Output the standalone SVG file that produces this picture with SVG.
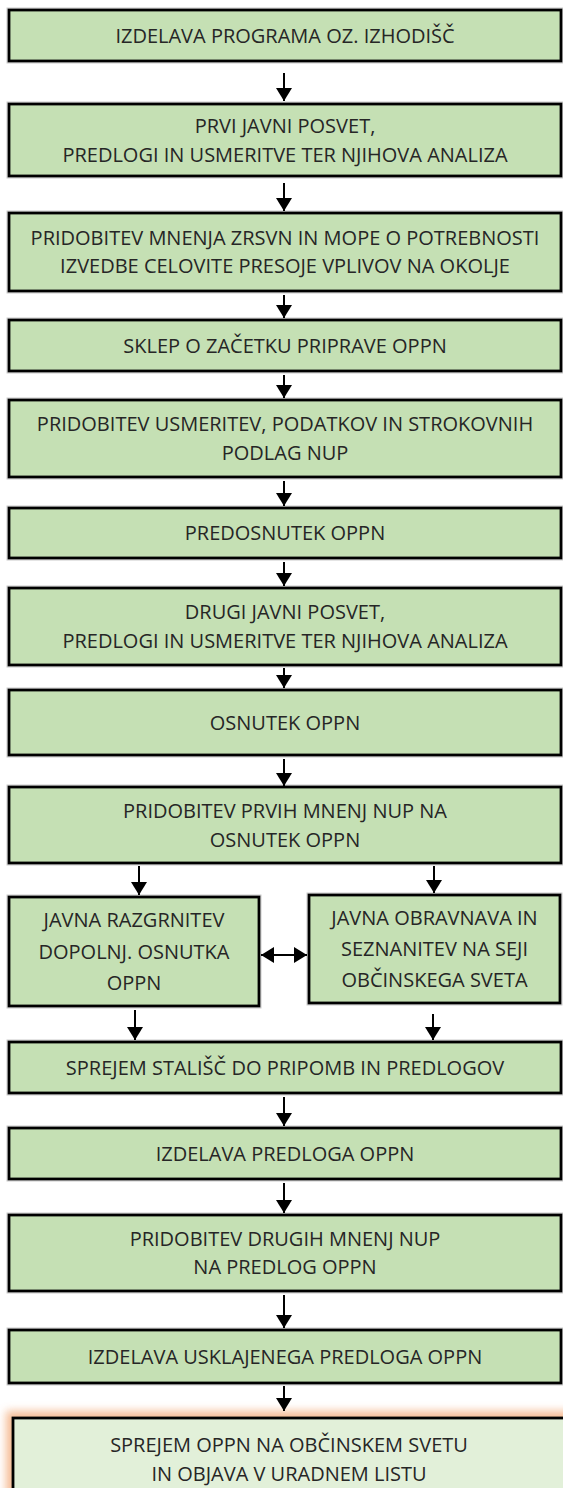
<svg xmlns="http://www.w3.org/2000/svg" width="563" height="1488" viewBox="0 0 563 1488">
<defs>
<style>
.box{fill:#C5E0B4;stroke:#000;stroke-width:2.8}
.halo{fill:none;stroke:#c9c9c9;stroke-width:1}
.final{fill:#E2F0D9;stroke:#000;stroke-width:2.8}
text{font-family:"Open Sans","Liberation Sans",sans-serif;font-size:20px;fill:#262626;text-anchor:middle}
.con{stroke:#000;stroke-width:2;fill:none}
</style>
<marker id="ah" markerUnits="userSpaceOnUse" markerWidth="14" markerHeight="16" refX="13" refY="8" orient="auto-start-reverse">
<path d="M0,0 L13,8 L0,16 Z" fill="#000"/>
</marker>
<filter id="glow" x="-10%" y="-30%" width="120%" height="160%">
<feGaussianBlur stdDeviation="4"/>
</filter>
</defs>
<rect width="563" height="1488" fill="#fff"/>

<g id="n1"><rect class="halo" x="7" y="8" width="556" height="55"/><rect class="box" x="9" y="10" width="552" height="51"/><text x="285" y="42.5">IZDELAVA PROGRAMA OZ. IZHODIŠČ</text></g>
<g id="n2"><rect class="halo" x="7" y="102" width="556" height="76"/><rect class="box" x="9" y="104" width="552" height="72"/><text x="285" y="133">PRVI JAVNI POSVET,</text><text x="285" y="162">PREDLOGI IN USMERITVE TER NJIHOVA ANALIZA</text></g>
<g id="n3"><rect class="halo" x="7" y="211" width="556" height="82"/><rect class="box" x="9" y="213" width="552" height="78"/><text x="285" y="245">PRIDOBITEV MNENJA ZRSVN IN MOPE O POTREBNOSTI</text><text x="285" y="273">IZVEDBE CELOVITE PRESOJE VPLIVOV NA OKOLJE</text></g>
<g id="n4"><rect class="halo" x="7" y="318" width="556" height="55"/><rect class="box" x="9" y="320" width="552" height="51"/><text x="285" y="352.5">SKLEP O ZAČETKU PRIPRAVE OPPN</text></g>
<g id="n5"><rect class="halo" x="7" y="398" width="556" height="81"/><rect class="box" x="9" y="400" width="552" height="77"/><text x="285" y="431">PRIDOBITEV USMERITEV, PODATKOV IN STROKOVNIH</text><text x="285" y="460">PODLAG NUP</text></g>
<g id="n6"><rect class="halo" x="7" y="506" width="556" height="54"/><rect class="box" x="9" y="508" width="552" height="50"/><text x="285" y="540">PREDOSNUTEK OPPN</text></g>
<g id="n7"><rect class="halo" x="7" y="586" width="556" height="81"/><rect class="box" x="9" y="588" width="552" height="77"/><text x="285" y="619">DRUGI JAVNI POSVET,</text><text x="285" y="648">PREDLOGI IN USMERITVE TER NJIHOVA ANALIZA</text></g>
<g id="n8"><rect class="halo" x="7" y="688" width="556" height="69"/><rect class="box" x="9" y="690" width="552" height="65"/><text x="285" y="729.5">OSNUTEK OPPN</text></g>
<g id="n9"><rect class="halo" x="7" y="785" width="556" height="80"/><rect class="box" x="9" y="787" width="552" height="76"/><text x="285" y="818">PRIDOBITEV PRVIH MNENJ NUP NA</text><text x="285" y="847">OSNUTEK OPPN</text></g>
<g id="n10a"><rect class="halo" x="7" y="895" width="254" height="113"/><rect class="box" x="9" y="897" width="250" height="109"/><text x="134" y="927">JAVNA RAZGRNITEV</text><text x="134" y="958.5">DOPOLNJ. OSNUTKA</text><text x="134" y="990">OPPN</text></g>
<g id="n10b"><rect class="halo" x="307" y="893" width="255" height="112"/><rect class="box" x="309" y="895" width="251" height="108"/><text x="434.5" y="925">JAVNA OBRAVNAVA IN</text><text x="434.5" y="956">SEZNANITEV NA SEJI</text><text x="434.5" y="987">OBČINSKEGA SVETA</text></g>
<g id="n11"><rect class="halo" x="7" y="1040" width="556" height="55"/><rect class="box" x="9" y="1042" width="552" height="51"/><text x="285" y="1074.5">SPREJEM STALIŠČ DO PRIPOMB IN PREDLOGOV</text></g>
<g id="n12"><rect class="halo" x="7" y="1126" width="556" height="55"/><rect class="box" x="9" y="1128" width="552" height="51"/><text x="285" y="1160.5">IZDELAVA PREDLOGA OPPN</text></g>
<g id="n13"><rect class="halo" x="7" y="1213" width="556" height="80"/><rect class="box" x="9" y="1215" width="552" height="76"/><text x="285" y="1246">PRIDOBITEV DRUGIH MNENJ NUP</text><text x="285" y="1274">NA PREDLOG OPPN</text></g>
<g id="n14"><rect class="halo" x="7" y="1328" width="556" height="57"/><rect class="box" x="9" y="1330" width="552" height="53"/><text x="285" y="1363.5">IZDELAVA USKLAJENEGA PREDLOGA OPPN</text></g>
<g id="n15"><rect x="6" y="1411" width="580" height="100" fill="#F4B183" opacity="0.85" filter="url(#glow)"/><rect class="final" x="13" y="1418" width="562" height="90"/><text x="289" y="1452">SPREJEM OPPN NA OBČINSKEM SVETU</text><text x="289" y="1481">IN OBJAVA V URADNEM LISTU</text></g>

<g id="connectors">
<line class="con" x1="284" y1="73" x2="284" y2="101" marker-end="url(#ah)"/>
<line class="con" x1="284" y1="183" x2="284" y2="211" marker-end="url(#ah)"/>
<line class="con" x1="284" y1="295" x2="284" y2="318" marker-end="url(#ah)"/>
<line class="con" x1="284" y1="375" x2="284" y2="398" marker-end="url(#ah)"/>
<line class="con" x1="284" y1="481" x2="284" y2="506" marker-end="url(#ah)"/>
<line class="con" x1="284" y1="562" x2="284" y2="586" marker-end="url(#ah)"/>
<line class="con" x1="284" y1="668" x2="284" y2="688" marker-end="url(#ah)"/>
<line class="con" x1="284" y1="759" x2="284" y2="786" marker-end="url(#ah)"/>
<line class="con" x1="139" y1="866" x2="139" y2="895" marker-end="url(#ah)"/>
<line class="con" x1="434" y1="866" x2="434" y2="893" marker-end="url(#ah)"/>
<line class="con" x1="261" y1="955" x2="307" y2="955" marker-start="url(#ah)" marker-end="url(#ah)"/>
<line class="con" x1="135" y1="1010" x2="135" y2="1040" marker-end="url(#ah)"/>
<line class="con" x1="433" y1="1014" x2="433" y2="1040" marker-end="url(#ah)"/>
<line class="con" x1="284" y1="1097" x2="284" y2="1126" marker-end="url(#ah)"/>
<line class="con" x1="284" y1="1183" x2="284" y2="1213" marker-end="url(#ah)"/>
<line class="con" x1="284" y1="1295" x2="284" y2="1328" marker-end="url(#ah)"/>
<line class="con" x1="284" y1="1386" x2="284" y2="1411" marker-end="url(#ah)"/>
</g>
</svg>
